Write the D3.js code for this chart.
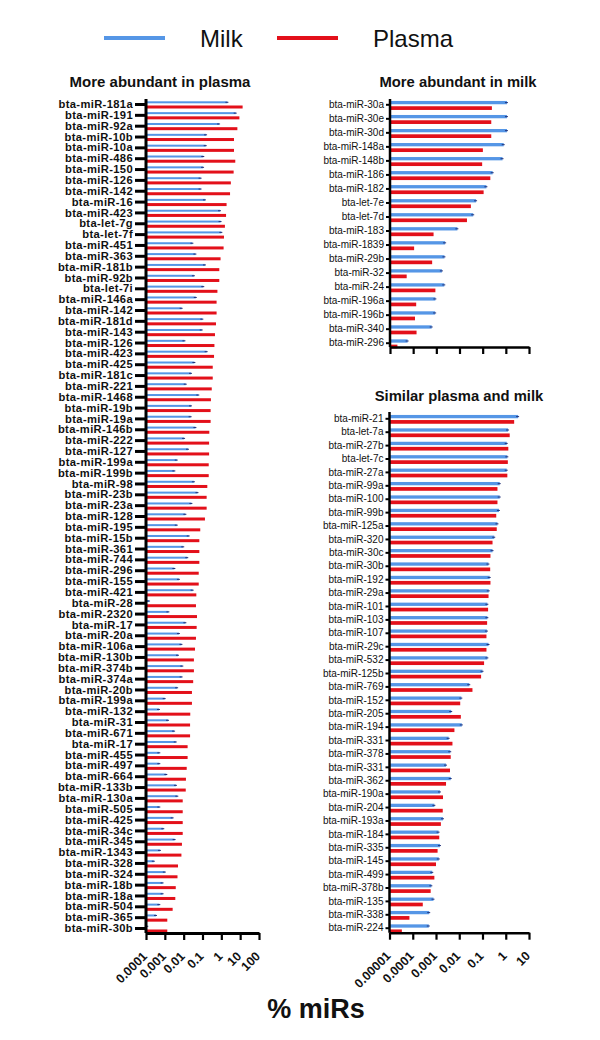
<!DOCTYPE html>
<html><head><meta charset="utf-8">
<script src="https://cdn.jsdelivr.net/npm/d3@7"></script>
<style>body{margin:0;background:#fff}svg{display:block;font-family:Arial,"Liberation Sans",sans-serif}</style>
</head><body>
<svg id="c" width="600" height="1040"></svg>
<script>
// ---------- data ----------
const plasmaCats = ["bta-miR-181a","bta-miR-191","bta-miR-92a","bta-miR-10b","bta-miR-10a","bta-miR-486","bta-miR-150","bta-miR-126","bta-miR-142","bta-miR-16","bta-miR-423","bta-let-7g","bta-let-7f","bta-miR-451","bta-miR-363","bta-miR-181b","bta-miR-92b","bta-let-7i","bta-miR-146a","bta-miR-142","bta-miR-181d","bta-miR-143","bta-miR-126","bta-miR-423","bta-miR-425","bta-miR-181c","bta-miR-221","bta-miR-1468","bta-miR-19b","bta-miR-19a","bta-miR-146b","bta-miR-222","bta-miR-127","bta-miR-199a","bta-miR-199b","bta-miR-98","bta-miR-23b","bta-miR-23a","bta-miR-128","bta-miR-195","bta-miR-15b","bta-miR-361","bta-miR-744","bta-miR-296","bta-miR-155","bta-miR-421","bta-miR-28","bta-miR-2320","bta-miR-17","bta-miR-20a","bta-miR-106a","bta-miR-130b","bta-miR-374b","bta-miR-374a","bta-miR-20b","bta-miR-199a","bta-miR-132","bta-miR-31","bta-miR-671","bta-miR-17","bta-miR-455","bta-miR-497","bta-miR-664","bta-miR-133b","bta-miR-130a","bta-miR-505","bta-miR-425","bta-miR-34c","bta-miR-345","bta-miR-1343","bta-miR-328","bta-miR-324","bta-miR-18b","bta-miR-18a","bta-miR-504","bta-miR-365","bta-miR-30b"];
const plasmaMilk = [2.1,5.8,0.76,0.155,0.148,0.11,0.107,0.079,0.079,0.135,0.85,0.91,1.0,0.029,0.042,0.135,0.035,0.11,0.044,0.0078,0.098,0.091,0.011,0.166,0.037,0.0245,0.0129,0.06,0.0245,0.0234,0.042,0.0105,0.017,0.0043,0.0032,0.035,0.054,0.0257,0.0123,0.0043,0.0186,0.0095,0.0155,0.0032,0.0056,0.03,0.000145,0.00155,0.0123,0.0056,0.0076,0.005,0.0085,0.0078,0.0045,0.00098,0.00049,0.00148,0.0031,0.0038,0.00051,0.00051,0.0012,0.0039,0.0046,0.00051,0.0026,0.00083,0.0033,0.00055,0.00026,0.001,0.00076,0.00076,0.00051,0.00034,0.000117];
const plasmaPlasma = [13.5,9.1,7.1,4.7,4.7,5.5,4.5,3.2,2.9,1.9,1.78,1.55,1.38,1.32,0.91,0.78,0.78,0.62,0.56,0.56,0.52,0.46,0.43,0.41,0.35,0.35,0.31,0.28,0.27,0.27,0.23,0.224,0.224,0.214,0.214,0.18,0.166,0.166,0.135,0.076,0.068,0.068,0.068,0.063,0.063,0.047,0.045,0.051,0.049,0.045,0.04,0.035,0.035,0.032,0.0275,0.0275,0.0224,0.0219,0.0219,0.0162,0.0162,0.0145,0.0132,0.0129,0.0089,0.0089,0.0089,0.0089,0.0081,0.0076,0.005,0.0047,0.0038,0.0036,0.0026,0.00135,0.00135];

const milkCats = ["bta-miR-30a","bta-miR-30e","bta-miR-30d","bta-miR-148a","bta-miR-148b","bta-miR-186","bta-miR-182","bta-let-7e","bta-let-7d","bta-miR-183","bta-miR-1839","bta-miR-29b","bta-miR-32","bta-miR-24","bta-miR-196a","bta-miR-196b","bta-miR-340","bta-miR-296"];
const milkMilk = [1.12,1.12,1.12,0.81,0.72,0.27,0.145,0.052,0.039,0.0081,0.0024,0.00224,0.00174,0.0022,0.00091,0.00089,0.00063,0.0000575];
const milkPlasma = [0.25,0.235,0.235,0.102,0.095,0.214,0.11,0.031,0.021,0.00076,0.00011,0.00066,0.0000525,0.00091,0.000135,0.00012,0.00014,0.0000209];

const simCats = ["bta-miR-21","bta-let-7a","bta-miR-27b","bta-let-7c","bta-miR-27a","bta-miR-99a","bta-miR-100","bta-miR-99b","bta-miR-125a","bta-miR-320","bta-miR-30c","bta-miR-30b","bta-miR-192","bta-miR-29a","bta-miR-101","bta-miR-103","bta-miR-107","bta-miR-29c","bta-miR-532","bta-miR-125b","bta-miR-769","bta-miR-152","bta-miR-205","bta-miR-194","bta-miR-331","bta-miR-378","bta-miR-331","bta-miR-362","bta-miR-190a","bta-miR-204","bta-miR-193a","bta-miR-184","bta-miR-335","bta-miR-145","bta-miR-499","bta-miR-378b","bta-miR-135","bta-miR-338","bta-miR-224"];
const simMilk = [3.4,1.26,1.1,1.17,1.1,0.55,0.55,0.51,0.44,0.32,0.27,0.18,0.204,0.186,0.162,0.162,0.155,0.182,0.162,0.1,0.027,0.0123,0.0045,0.0129,0.0035,0.0041,0.0027,0.0043,0.00148,0.00085,0.002,0.00129,0.00148,0.00132,0.00069,0.00063,0.00078,0.00051,0.00049];
const simPlasma = [2.3,1.48,1.29,1.23,1.17,0.44,0.44,0.39,0.41,0.27,0.22,0.214,0.22,0.182,0.174,0.158,0.148,0.148,0.117,0.087,0.037,0.011,0.0117,0.0062,0.0051,0.0043,0.004,0.0027,0.002,0.00195,0.00162,0.00138,0.00117,0.001,0.00085,0.00059,0.00027,0.000072,0.000034];

const leftTicks = [0.0001,0.001,0.01,0.1,1,10,100];
const leftTickLabels = ["0.0001","0.001","0.01","0.1","1","10","100"];
const rightTicks = [0.00001,0.0001,0.001,0.01,0.1,1,10];
const rightTickLabels = ["0.00001","0.0001","0.001","0.01","0.1","1","10"];

const seriesNames = ["Milk","Plasma"];
const COL = {Milk:"#5596e6", Plasma:"#e3101a"};

const svg = d3.select("#c");

function panel(o){
  const g = svg.append("g");
  const x = d3.scaleLog().domain(o.domain).range([o.x0,o.x1]);
  const y = d3.scalePoint().domain(d3.range(o.cats.length)).range([o.y0,o.y1]);
  const gm = g.append("g");
  gm.selectAll("rect.m").data(o.milk).join("rect")
    .attr("x",o.x0).attr("y",(d,i)=>y(i)+o.mOff-o.mH/2)
    .attr("width",d=>Math.max(0,x(d)-o.x0)).attr("height",o.mH)
    .attr("fill",COL.Milk);
  gm.selectAll("rect.p").data(o.plasma).join("rect")
    .attr("x",o.x0).attr("y",(d,i)=>y(i)+o.pOff-o.pH/2)
    .attr("width",d=>Math.max(0,x(d)-o.x0)).attr("height",o.pH)
    .attr("fill",COL.Plasma);
  gm.selectAll("line.mc").data(o.milk).join("line")
    .attr("x1",d=>x(d)-2).attr("x2",d=>x(d)+1)
    .attr("y1",(d,i)=>y(i)+o.mOff).attr("y2",(d,i)=>y(i)+o.mOff)
    .attr("stroke","#23337a").attr("stroke-width",1);
  const ya = g.append("g").attr("transform",`translate(${o.x0},0)`)
    .call(d3.axisLeft(y).tickFormat(i=>o.cats[i]).tickSize(o.ytick).tickPadding(o.ypad));
  ya.select(".domain").remove();
  ya.selectAll(".tick line").attr("stroke","#000").attr("stroke-width",o.ytickW);
  ya.selectAll(".tick text").attr("font-size",o.yfs).attr("font-weight",o.yfw)
    .attr("letter-spacing",o.yls).attr("fill","#111");
  g.append("line").attr("x1",o.x0).attr("x2",o.x0).attr("y1",o.ay0).attr("y2",o.axisY)
    .attr("stroke","#000").attr("stroke-width",o.axW);
  const xa = g.append("g").attr("transform",`translate(0,${o.axisY})`)
    .call(d3.axisBottom(x).tickValues(o.ticks).tickFormat(()=> "").tickSize(7).tickSizeOuter(0));
  xa.select(".domain").attr("stroke","#000").attr("stroke-width",o.axW);
  xa.selectAll(".tick line").attr("stroke","#000").attr("stroke-width",2.2);
  if(o.tickLabels){
    g.selectAll("text.xt").data(o.ticks).join("text")
      .attr("transform",(d)=>`translate(${x(d)+2},${o.axisY+24}) rotate(-45)`)
      .attr("text-anchor","end").attr("font-size",12.5).attr("font-weight","bold").attr("fill","#111")
      .text((d,i)=>o.tickLabels[i]);
  }
  g.append("text").attr("x",o.tx).attr("y",o.ty).attr("text-anchor","middle")
    .attr("font-size",o.tfs).attr("font-weight","bold").attr("fill","#111").text(o.title);
}

panel({cats:plasmaCats, milk:plasmaMilk, plasma:plasmaPlasma, domain:[0.0001,100],
  x0:146, x1:259, y0:104, y1:928, ay0:99, axisY:933, mOff:-1.7, pOff:3, mH:2, pH:3,
  ytick:11, ypad:2, ytickW:3, yfs:11.2, yfw:"bold", yls:0.35, axW:3,
  ticks:leftTicks, tickLabels:leftTickLabels, title:"More abundant in plasma", tx:160, ty:87, tfs:15});

panel({cats:milkCats, milk:milkMilk, plasma:milkPlasma, domain:[0.00001,10],
  x0:390, x1:529, y0:104.3, y1:342.7, ay0:99, axisY:347, mOff:-1.7, pOff:3.8, mH:3.3, pH:3.7,
  ytick:4, ypad:2, ytickW:2, yfs:10, yfw:"normal", yls:0, axW:2.5,
  ticks:rightTicks, tickLabels:null, title:"More abundant in milk", tx:458, ty:87, tfs:14.8});

panel({cats:simCats, milk:simMilk, plasma:simPlasma, domain:[0.00001,10],
  x0:389.5, x1:529, y0:418.3, y1:927.7, ay0:412, axisY:932.7, mOff:-1.7, pOff:3.6, mH:3.3, pH:3.7,
  ytick:4, ypad:2, ytickW:2, yfs:10, yfw:"normal", yls:0, axW:2.5,
  ticks:rightTicks, tickLabels:rightTickLabels, title:"Similar plasma and milk", tx:459, ty:401, tfs:14.8});

const leg = svg.append("g");
const legX = [104, 277];
seriesNames.forEach((s,i)=>{
  leg.append("line").attr("x1",legX[i]).attr("x2",legX[i]+61).attr("y1",38).attr("y2",38)
    .attr("stroke",COL[s]).attr("stroke-width",4);
  leg.append("text").attr("x",legX[i]+96).attr("y",47).attr("font-size",24).attr("fill","#111").text(s);
});

svg.append("text").attr("x",316).attr("y",1018).attr("text-anchor","middle")
  .attr("font-size",27).attr("font-weight","bold").attr("fill","#111").text("% miRs");
</script>
</body></html>
